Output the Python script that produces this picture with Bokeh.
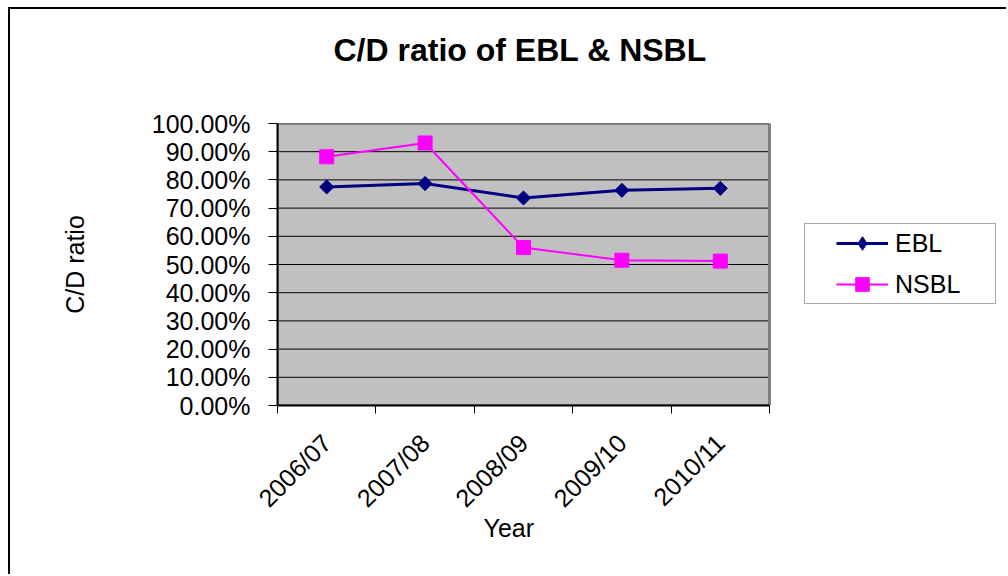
import math
from bokeh.plotting import figure
from bokeh.models import (Range1d, FixedTicker, NumeralTickFormatter, Legend,
                          LegendItem, Title)
from bokeh.embed import file_html
from bokeh.resources import INLINE

# ---- data ----
years = ["2006/07", "2007/08", "2008/09", "2009/10", "2010/11"]
ebl = [0.775, 0.787, 0.736, 0.763, 0.770]
nsbl = [0.882, 0.931, 0.560, 0.515, 0.512]
y_ticks = [0.0, 0.1, 0.2, 0.3, 0.4, 0.5, 0.6, 0.7, 0.8, 0.9, 1.0]

n = len(years)
xs = [i + 0.5 for i in range(n)]
bounds = list(range(n + 1))

FONT = "Liberation Sans"

# layout (pixels): the frame runs to the right canvas edge so that the
# legend, which sits right of the grey plot area, is not clipped
PLOT_W = 492
FRAME_W = 731
x_end = n * FRAME_W / PLOT_W

p = figure(width=998, height=567, output_backend="svg", toolbar_location=None,
           x_range=Range1d(0, x_end), y_range=Range1d(0, 1),
           min_border_left=267, min_border_top=114, min_border_right=0,
           min_border_bottom=171,
           background_fill_color="white", border_fill_color="white",
           outline_line_color=None,
           title=None,
           styles={"margin-left": "8px", "margin-top": "7px",
                   "border-left": "2px solid black",
                   "border-top": "2px solid black"})

# spacer (nearest the frame) then the real title (outer)
spacer = Title(text=" ", text_font_size="10px", standoff=38)
main_title = Title(text="C/D ratio of EBL & NSBL", align="left", offset=56,
                   text_font=FONT, text_font_size="32px",
                   text_font_style="bold", text_color="black", standoff=10)
p.add_layout(spacer, "above")
p.add_layout(main_title, "above")

p.xgrid.visible = False
p.ygrid.visible = False

# grey plot area, grid lines and its border
p.quad(left=0, right=n, bottom=y_ticks[0], top=y_ticks[-1],
       fill_color="#C0C0C0", line_color=None)
p.segment(x0=[0] * len(y_ticks), y0=y_ticks, x1=[n] * len(y_ticks), y1=y_ticks,
          line_color="black", line_width=1)
p.quad(left=0, right=n, bottom=y_ticks[0], top=y_ticks[-1],
       fill_color=None, line_color="#808080", line_width=3)

# x axis
xa = p.xaxis[0]
xa.bounds = (0, n)
xa.ticker = FixedTicker(ticks=xs, minor_ticks=bounds)
xa.major_label_overrides = {x: y for x, y in zip(xs, years)}
xa.major_tick_line_color = None
xa.major_tick_out = 8
xa.minor_tick_out = 8
xa.minor_tick_in = 0
xa.minor_tick_line_color = "black"
xa.axis_line_color = "black"
xa.axis_line_width = 2
xa.major_label_orientation = math.pi / 4
xa.major_label_text_font = FONT
xa.major_label_text_font_size = "25px"
xa.major_label_text_color = "black"
xa.major_label_standoff = 25

# x-axis title (placed under the grey area, not under the wide frame)
x_title = Title(text="Year", align="left", offset=206, vertical_align="top",
                standoff=-24, text_font=FONT, text_font_size="25px",
                text_font_style="normal", text_color="black")
p.add_layout(x_title, "below")

# y axis
ya = p.yaxis[0]
ya.ticker = FixedTicker(ticks=y_ticks)
ya.formatter = NumeralTickFormatter(format="0.00%")
ya.major_tick_out = 9
ya.major_tick_in = 0
ya.minor_tick_line_color = None
ya.major_tick_line_color = "black"
ya.axis_line_color = "black"
ya.axis_line_width = 2
ya.major_label_text_font = FONT
ya.major_label_text_font_size = "25px"
ya.major_label_text_color = "black"
ya.major_label_standoff = 18
ya.axis_label = "C/D ratio"
ya.axis_label_text_font = FONT
ya.axis_label_text_font_size = "25px"
ya.axis_label_text_font_style = "normal"
ya.axis_label_text_color = "black"
ya.axis_label_standoff = 60

# series
l1 = p.line(xs, ebl, line_color="#000080", line_width=3)
s1 = p.scatter(xs, ebl, marker="square", angle=math.pi / 4, size=10,
               fill_color="#000080", line_color="#000080")
l2 = p.line(xs, nsbl, line_color="#FF00FF", line_width=2)
s2 = p.scatter(xs, nsbl, marker="square", size=14,
               fill_color="#FF00FF", line_color="#FF00FF")
# legend-only diamond (the legend draws markers unrotated)
s1_leg = p.scatter(xs, ebl, marker="diamond", size=14,
                   fill_color="#000080", line_color="#000080", visible=False)

legend = Legend(items=[LegendItem(label="EBL", renderers=[l1, s1_leg]),
                       LegendItem(label="NSBL", renderers=[l2, s2])],
                location=(527, 101), padding=2, margin=0, spacing=7,
                glyph_width=52, glyph_height=34, label_height=34,
                label_width=98, label_standoff=7,
                title=" ", title_location="left", title_standoff=27,
                title_text_font_size="2px",
                border_line_color="#555555", border_line_width=1,
                background_fill_color="white", background_fill_alpha=1,
                label_text_font=FONT, label_text_font_size="25px",
                label_text_color="black")
p.add_layout(legend, "center")

open("out.html", "w").write(file_html(p, INLINE))
